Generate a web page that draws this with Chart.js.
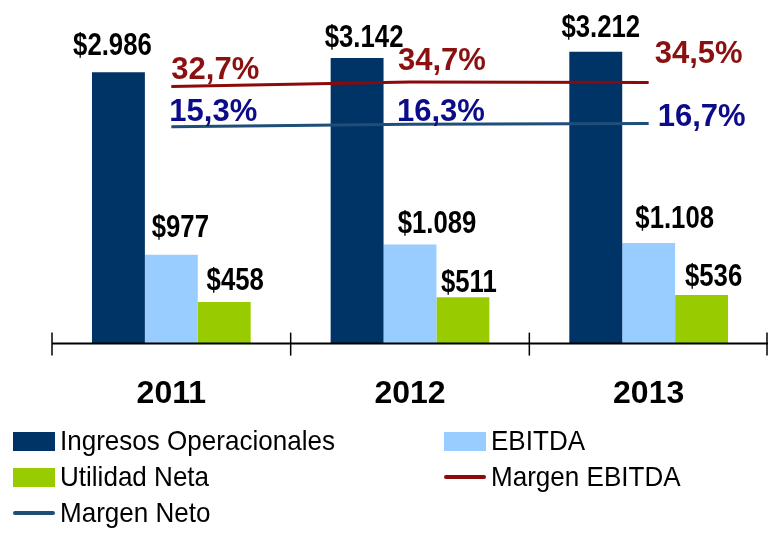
<!DOCTYPE html>
<html>
<head>
<meta charset="utf-8">
<script src="https://cdn.jsdelivr.net/npm/chart.js@4"></script>
<style>
  html, body { margin: 0; padding: 0; background: #fff; }
  #wrap { position: relative; width: 769px; height: 534px; overflow: hidden; }
  #chart-box { position: absolute; left: 0; top: 0; width: 769px; height: 448px; }
  #legend { position: absolute; left: 0; top: 0; width: 769px; height: 534px; pointer-events: none; }
  .leg-item { position: absolute; display: flex; align-items: center; height: 30px;
    font-family: "Liberation Sans", Arial, sans-serif; font-size: 28px; color: #000; white-space: nowrap; }
  .leg-mark { width: 42px; margin-right: 5px; flex: none; }
  .leg-text { display: inline-block; transform: scaleX(0.93); transform-origin: left center; }
</style>
</head>
<body>
<div id="wrap">
  <div id="chart-box"><canvas id="kpi-chart"></canvas></div>
  <div id="legend"></div>
</div>
<script>
const years = ["2011", "2012", "2013"];
const ingresos = [2986, 3142, 3212];
const ebitda = [977, 1089, 1108];
const utilidad = [458, 511, 536];
const margenEbitda = [32.7, 34.7, 34.5];
const margenNeto = [15.3, 16.3, 16.7];

// label nudges (dx from bar centre / point, gap above bar top or dy from point)
const barLabelShift = [
  [[-6, 17], [7, 11], [5, 15]],
  [[9, 18], [27, 12], [26, 15]],
  [[11, 12], [6, 5], [12, 9]],
];
const pctLabelShift = [
  [[0, -8], [-12, -12], [6, -19]],
  [[-2, -6], [-13, -3], [9, 3]],
];

const sansFont = '"Liberation Sans", Arial, sans-serif';

const fmtMoney = (v) => "$" + String(v).replace(/\B(?=(\d{3})+(?!\d))/g, ".");
const fmtPct = (v) => v.toFixed(1).replace(".", ",") + "%";

const labelPlugin = {
  id: "valueLabels",
  afterDatasetsDraw(chart) {
    const ctx = chart.ctx;
    ctx.save();
    ctx.textBaseline = "alphabetic";
    // bar values (condensed look of the original)
    [0, 1, 2].forEach((di) => {
      const meta = chart.getDatasetMeta(di);
      const values = chart.data.datasets[di].data;
      meta.data.forEach((bar, i) => {
        const [dx, gap] = barLabelShift[di][i];
        ctx.save();
        ctx.translate(bar.x + dx, bar.y - gap);
        ctx.scale(0.83, 1);
        ctx.font = "bold 31px " + sansFont;
        ctx.fillStyle = "#000";
        ctx.textAlign = "center";
        ctx.fillText(fmtMoney(values[i]), 0, 0);
        ctx.restore();
      });
    });
    // margin values
    [3, 4].forEach((di, k) => {
      const meta = chart.getDatasetMeta(di);
      const ds = chart.data.datasets[di];
      meta.data.forEach((pt, i) => {
        const [dx, dy] = pctLabelShift[k][i];
        ctx.font = "bold 31px " + sansFont;
        ctx.fillStyle = ds.labelColor;
        ctx.textAlign = "left";
        ctx.fillText(fmtPct(ds.data[i]), pt.x + dx, pt.y + dy);
      });
    });
    ctx.restore();
  },
};

const axisPlugin = {
  id: "axisLine",
  afterDraw(chart) {
    const ctx = chart.ctx;
    const xs = chart.scales.x;
    const bottom = chart.chartArea.bottom;
    ctx.save();
    ctx.strokeStyle = "#000";
    ctx.lineWidth = 2;
    ctx.beginPath();
    ctx.moveTo(xs.left, bottom);
    ctx.lineTo(xs.right, bottom);
    ctx.stroke();
    ctx.lineWidth = 1.5;
    const n = years.length;
    for (let i = 0; i <= n; i++) {
      const x = Math.min(xs.left + (i * xs.width) / n, xs.right - 1);
      ctx.beginPath();
      ctx.moveTo(x, bottom - 11);
      ctx.lineTo(x, bottom + 12);
      ctx.stroke();
    }
    ctx.restore();
  },
};

const ctx = document.getElementById("kpi-chart");
const kpiChart = new Chart(ctx, {
  type: "bar",
  data: {
    labels: years,
    datasets: [
      {
        label: "Ingresos Operacionales",
        data: ingresos,
        backgroundColor: "#003366",
        order: 2,
      },
      {
        label: "EBITDA",
        data: ebitda,
        backgroundColor: "#99CCFF",
        order: 2,
      },
      {
        label: "Utilidad Neta",
        data: utilidad,
        backgroundColor: "#99CC00",
        order: 2,
      },
      {
        type: "line",
        label: "Margen EBITDA",
        data: margenEbitda,
        yAxisID: "y2",
        borderColor: "#8B0A0A",
        labelColor: "#8B1111",
        borderWidth: 3,
        pointRadius: 0,
        order: 1,
      },
      {
        type: "line",
        label: "Margen Neto",
        data: margenNeto,
        yAxisID: "y2",
        borderColor: "#1F4E79",
        labelColor: "#0C0C8A",
        borderWidth: 3,
        pointRadius: 0,
        order: 1,
      },
    ],
  },
  options: {
    responsive: true,
    maintainAspectRatio: false,
    animation: false,
    datasets: {
      bar: {
        categoryPercentage: 0.665,
        barPercentage: 1,
      },
    },
    layout: {
      padding: { left: 52, right: 1, top: 10, bottom: 4 },
    },
    plugins: {
      legend: { display: false },
      tooltip: { enabled: false },
    },
    scales: {
      x: {
        grid: { display: false, drawTicks: false },
        border: { display: false },
        ticks: {
          color: "#000",
          padding: 31,
          font: { family: sansFont, size: 32, weight: "bold", lineHeight: 1.2 },
        },
      },
      y: {
        display: false,
        min: 0,
        max: 3670,
      },
      y2: {
        display: false,
        position: "right",
        min: -79,
        max: 66,
      },
    },
  },
  plugins: [labelPlugin, axisPlugin],
});

// legend laid out in two columns like the original
const legendEl = document.getElementById("legend");
let legendHTML = "";
kpiChart.data.datasets.forEach((ds, i) => {
  const row = Math.floor(i / 2);
  const col = i % 2;
  const left = col === 0 ? 13 : 444;
  const top = 426 + row * 36;
  const mark =
    ds.type === "line"
      ? `<div class="leg-mark" style="height:4px;background:${ds.borderColor};border-radius:2px;"></div>`
      : `<div class="leg-mark" style="height:19px;background:${ds.backgroundColor};"></div>`;
  legendHTML += `<div class="leg-item" style="left:${left}px;top:${top}px;">${mark}<span class="leg-text">${ds.label}</span></div>`;
});
legendEl.innerHTML = legendHTML;
</script>
</body>
</html>
